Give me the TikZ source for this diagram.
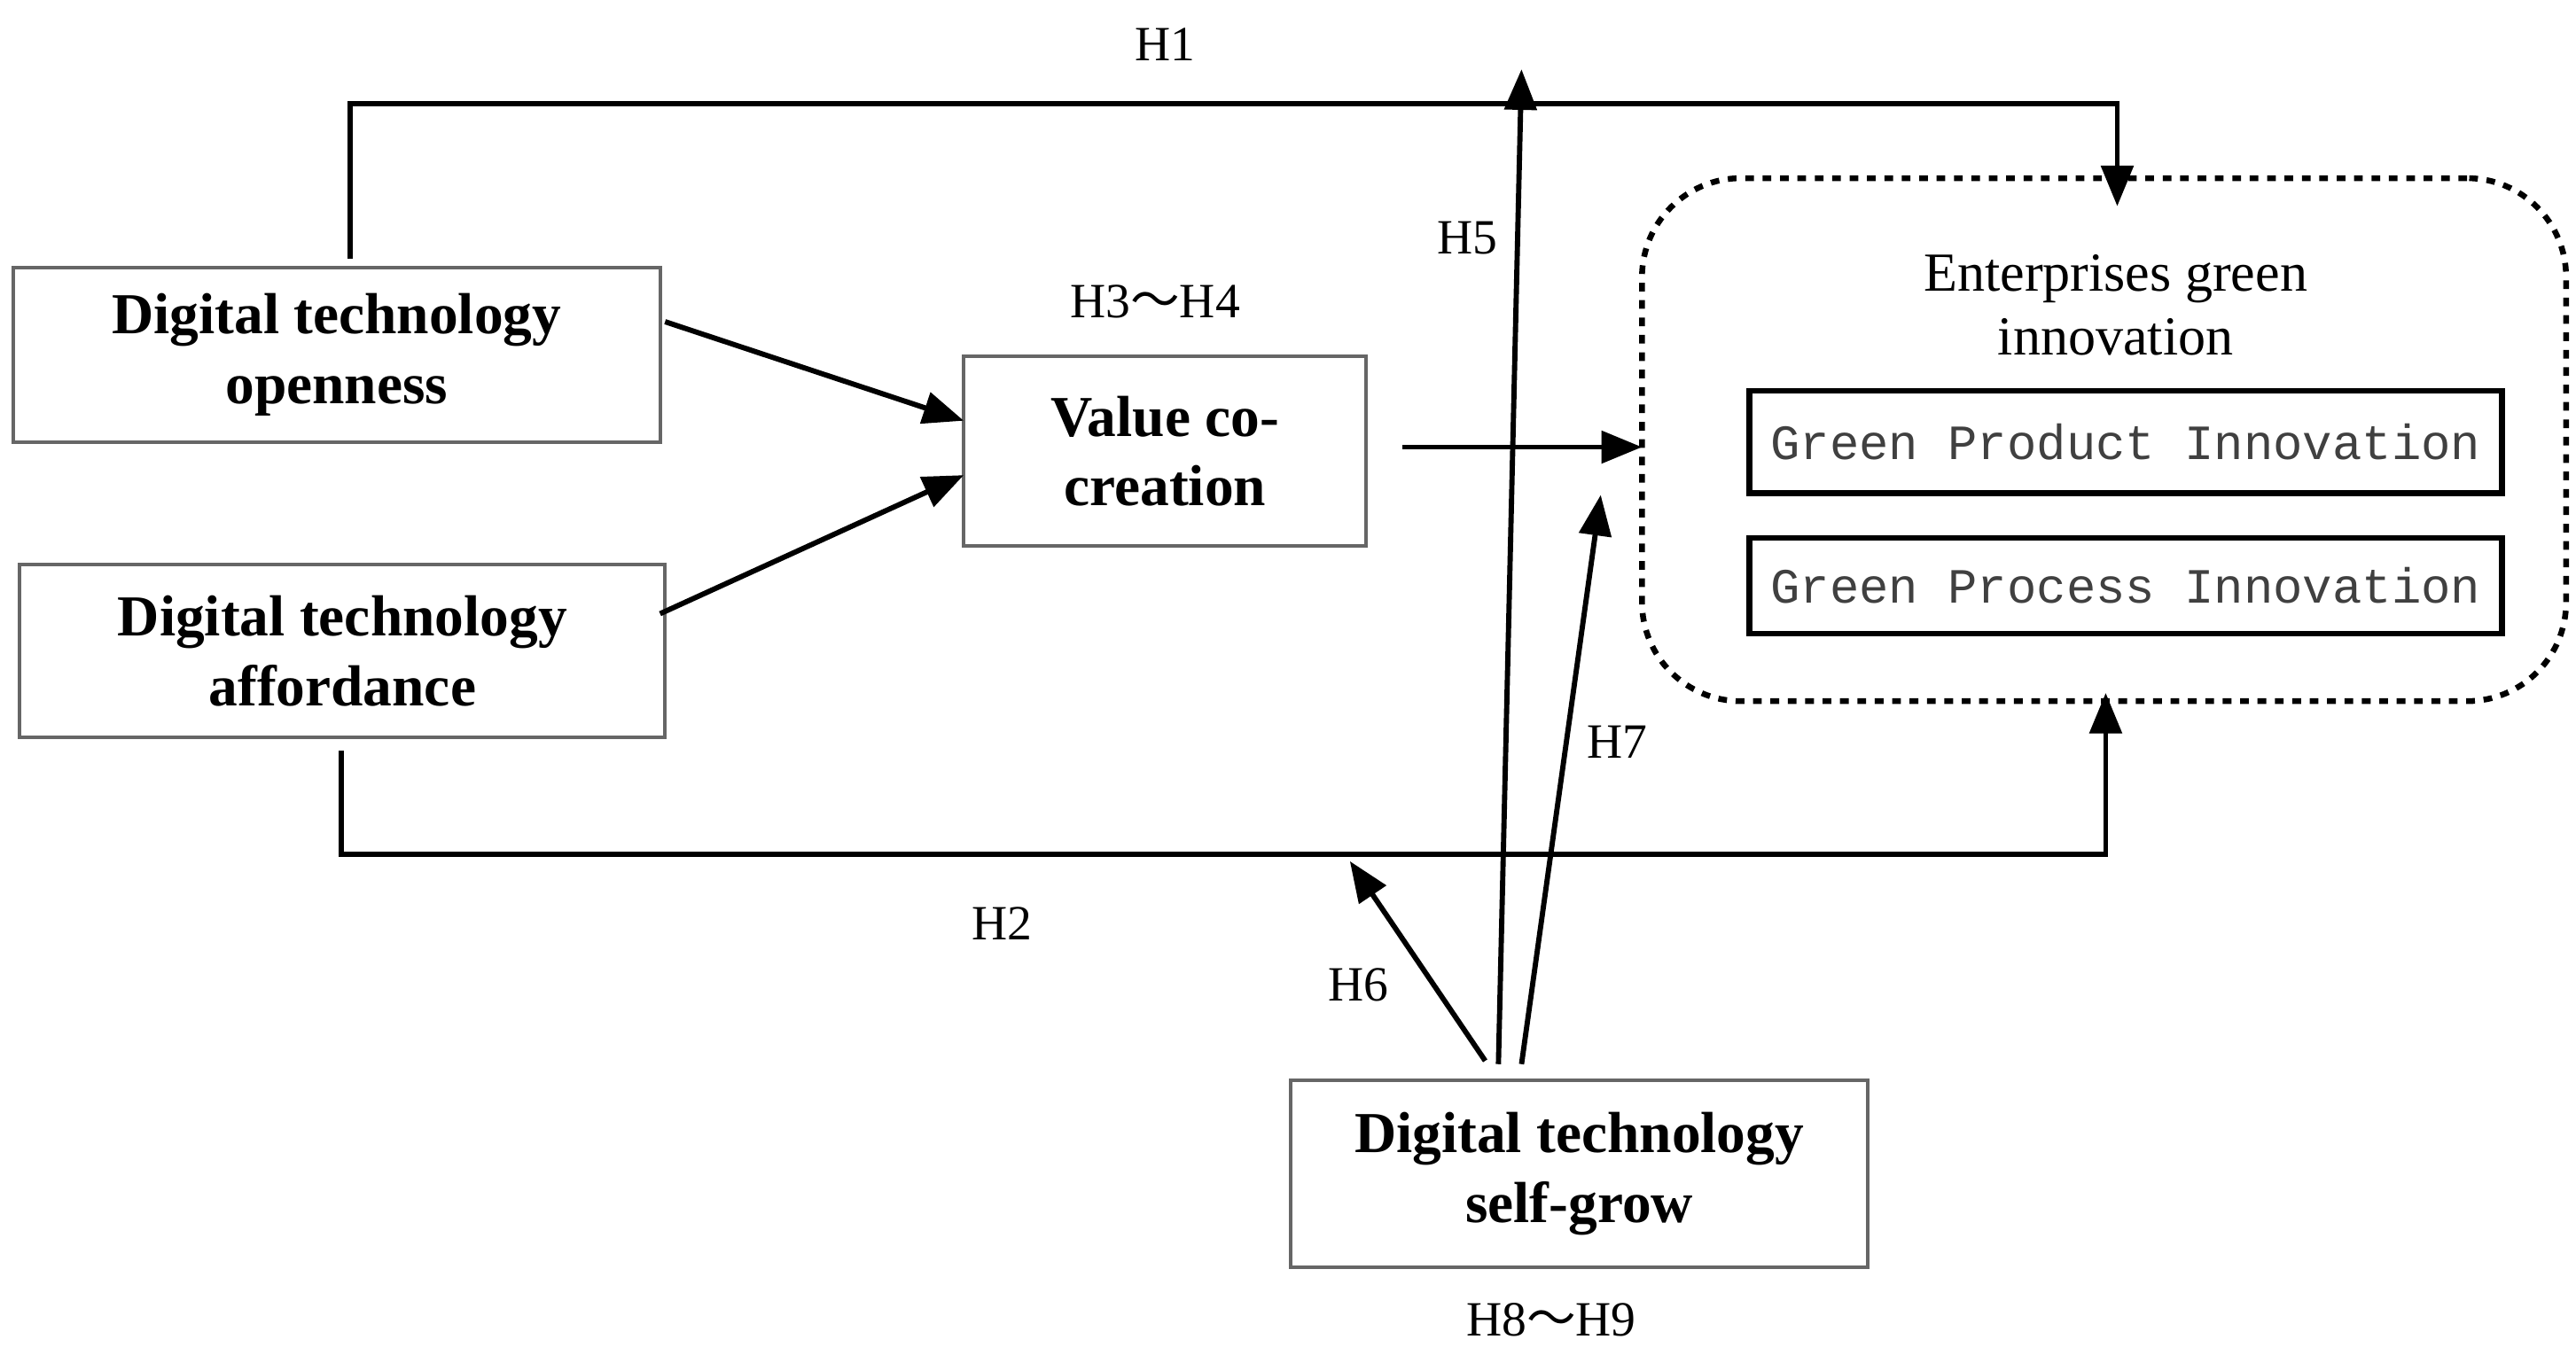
\documentclass[tikz,border=0pt]{standalone}
\usepackage{fontspec}
\setmainfont{Liberation Serif}
\setmonofont{Liberation Mono}
\newfontfamily\cjk{Noto Sans CJK SC}
\usetikzlibrary{arrows.meta}
\begin{document}
\begin{tikzpicture}[x=0.02cm,y=-0.02cm,
  box/.style={draw=black!60,line width=1.2pt,inner sep=0pt},
  btxt/.style={font=\fontsize{20}{24}\selectfont\bfseries,align=center},
  lab/.style={font=\fontsize{17}{20}\selectfont},
  gbox/.style={draw=black,line width=2pt,inner sep=0pt},
  gtxt/.style={font=\fontsize{17}{20}\selectfont\ttfamily,text=black!75},
  arr/.style={line width=1.8pt,-{Triangle[length=14pt,width=11pt]}},
  ln/.style={line width=1.8pt}]
\path[use as bounding box] (0,0) rectangle (1561,821);
% boxes
\node[box,minimum width=392*0.02cm,minimum height=106*0.02cm] (open) at (204,215) {};
\node[btxt] at (open) {Digital technology\\openness};
\node[box,minimum width=391*0.02cm,minimum height=105*0.02cm] (aff) at (207.5,394.5) {};
\node[btxt] at (aff) {Digital technology\\affordance};
\node[box,minimum width=244*0.02cm,minimum height=115*0.02cm] (val) at (706,273.5) {};
\node[btxt] at (val) {Value co-\\creation};
\node[box,minimum width=350*0.02cm,minimum height=113*0.02cm] (self) at (957,711.5) {};
\node[btxt] at (self) {Digital technology\\self-grow};
\node[draw,dashed,line width=2pt,rounded corners=1.2cm,minimum width=560*0.02cm,minimum height=317*0.02cm,inner sep=0pt] (green) at (1275,266.5) {};
\node[lab,align=center,font=\fontsize{19}{22}\selectfont] (gt) at (1282,185) {Enterprises green\\innovation};
\node[gbox,minimum width=456*0.02cm,minimum height=62*0.02cm] (prod) at (1288,268) {};
\node[gtxt] at (prod) {Green Product Innovation};
\node[gbox,minimum width=456*0.02cm,minimum height=58*0.02cm] (proc) at (1288,355) {};
\node[gtxt] at (proc) {Green Process Innovation};
% coordinates
\coordinate (h1a) at (212,157); \coordinate (h1b) at (212,63); \coordinate (h1c) at (1283,63); \coordinate (h1d) at (1283,125);
\coordinate (h2a) at (207,455); \coordinate (h2b) at (207,518); \coordinate (h2c) at (1276,518); \coordinate (h2d) at (1276,420);
\draw[arr] (h1a) -- (h1b) -- (h1c) -- (h1d);
\draw[arr] (h2a) -- (h2b) -- (h2c) -- (h2d);
\coordinate (o1) at (403,195); \coordinate (v1) at (584,255);
\coordinate (a1) at (400,372); \coordinate (v2) at (584,288);
\draw[arr] (o1) -- (v1);
\draw[arr] (a1) -- (v2);
\coordinate (v3) at (850,271); \coordinate (g1) at (995,271);
\draw[arr] (v3) -- (g1);
\coordinate (s5) at (908,645); \coordinate (t5) at (922,42);
\coordinate (s7) at (922,645); \coordinate (t7) at (970,300);
\coordinate (s6) at (900,643); \coordinate (t6) at (818,522);
\draw[arr] (s5) -- (t5);
\draw[arr] (s7) -- (t7);
\draw[arr] (s6) -- (t6);
% labels
\node[lab] (L1) at (706,27) {H1};
\node[lab] (L2) at (607,560) {H2};
\node[lab] (L34) at (700,183) {H3{\cjk ～}H4};
\node[lab] (L5) at (889,144) {H5};
\node[lab] (L6) at (823,597) {H6};
\node[lab] (L7) at (980,450) {H7};
\node[lab] (L89) at (940,800) {H8{\cjk ～}H9};
\end{tikzpicture}
\end{document}
